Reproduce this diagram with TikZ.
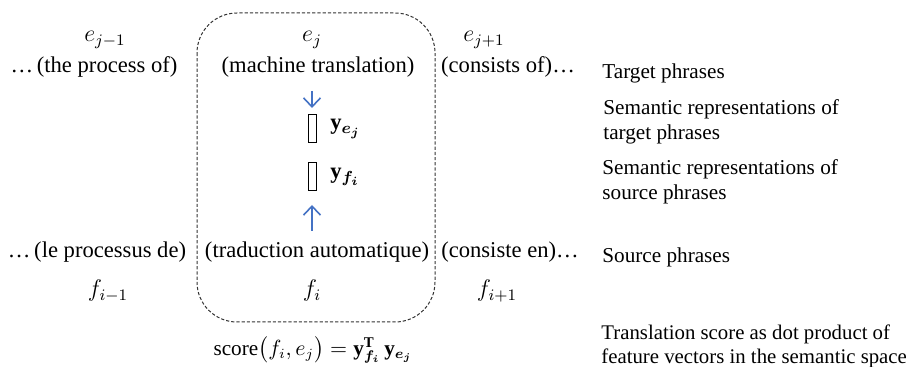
\documentclass[tikz,border=0pt]{standalone}
\usepackage{amsmath,bm}
\usepackage{fontspec}
\setmainfont{Liberation Serif}
\usetikzlibrary{arrows.meta}
\definecolor{arrowblue}{RGB}{68,114,196}
\tikzset{
  mtext/.style={inner sep=0pt, font=\fontsize{11.3}{14}\selectfont},
  lbl/.style={inner sep=0pt, anchor=west, align=left, font=\fontsize{10.6}{12.6}\selectfont},
  vec/.style={draw=black, line width=0.5pt, minimum width=4pt, minimum height=14pt, inner sep=0pt},
  bluearrow/.style={draw=arrowblue, line width=0.8pt, -{Straight Barb[length=4.5pt,width=8.5pt]}},
  groupbox/.style={draw=black!80, line width=0.5pt, dash pattern=on 1.6pt off 1pt, rounded corners=20pt}
}
\begin{document}
\begin{tikzpicture}[x=0.5pt,y=-0.5pt]
\useasboundingbox (0,0) rectangle (906,367);
% group box
\draw[groupbox] (197,13) rectangle (435,322);
% top row
\node[mtext, font=\fontsize{12}{14}\selectfont] (ejm) at (105,40) {$e_{j-1}$};
\node[mtext, font=\fontsize{12}{14}\selectfont] (ej) at (312,40) {$e_j$};
\node[mtext, font=\fontsize{12}{14}\selectfont] (ejp) at (484,40) {$e_{j+1}$};
\node[mtext] (tpo) at (94,67) {\ldots\,(the process of)};
\node[mtext] (tmt) at (318,67) {(machine translation)};
\node[mtext] (tco) at (508,67) {(consists of)\ldots};
% vectors
\coordinate (adtop) at (312,91);
\coordinate (adbot) at (312,108);
\draw[bluearrow] (adtop) -- (adbot);
\node[vec] (ve) at (312,129) {};
\node[mtext, anchor=west] (vel) at (330,129) {$\mathbf{y}_{\bm{e}_{\bm{j}}}$};
\node[vec] (vf) at (312,177) {};
\node[mtext, anchor=west] (vfl) at (330,177) {$\mathbf{y}_{\bm{f}_{\bm{i}}}$};
\coordinate (autop) at (312,205);
\coordinate (aubot) at (312,231);
\draw[bluearrow] (aubot) -- (autop);
% bottom row
\node[mtext] (slp) at (97,252) {\ldots\,(le processus de)};
\node[mtext] (sta) at (317,252) {(traduction automatique)};
\node[mtext] (sce) at (510,252) {(consiste en)\ldots};
\node[mtext, font=\fontsize{12}{14}\selectfont] (fim) at (108,291) {$f_{i-1}$};
\node[mtext, font=\fontsize{12}{14}\selectfont] (fi) at (312,291) {$f_i$};
\node[mtext, font=\fontsize{12}{14}\selectfont] (fip) at (497,291) {$f_{i+1}$};
% score
\node[mtext, font=\fontsize{10.6}{13}\selectfont] (score) at (313,350) {$\mathrm{score}\bigl(f_i, e_j\bigr) = \mathbf{y}_{\bm{f}_{\bm{i}}}^{\mathbf{T}}\,\mathbf{y}_{\bm{e}_{\bm{j}}}$};
% right labels
\node[lbl] (l1) at (602,73) {Target phrases};
\node[lbl] (l2) at (603,122) {Semantic representations of\\target phrases};
\node[lbl] (l3) at (602,182) {Semantic representations of\\source phrases};
\node[lbl] (l4) at (602,257) {Source phrases};
\node[lbl, font=\fontsize{10.4}{12}\selectfont] (l5) at (601,346) {Translation score as dot product of\\feature vectors in the semantic space};
\end{tikzpicture}
\end{document}
